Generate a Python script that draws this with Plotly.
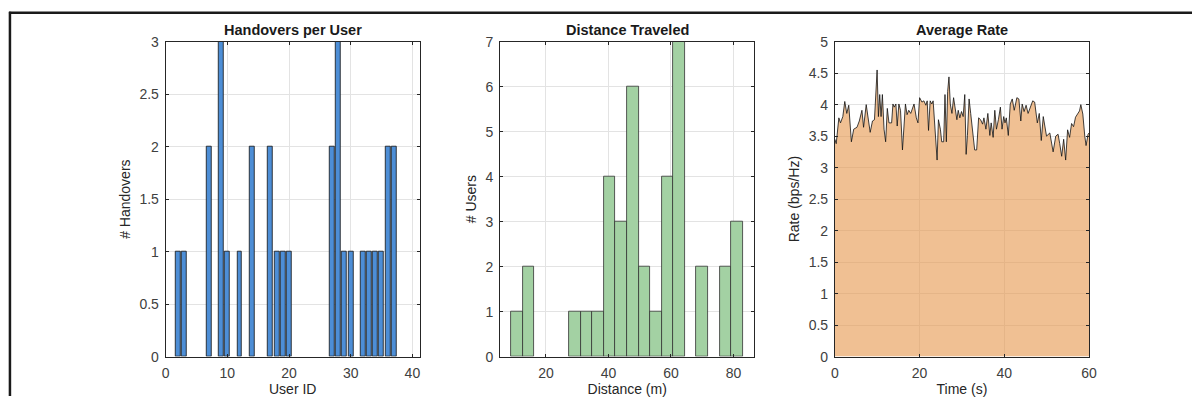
import plotly.graph_objects as go

# Handovers per user (users 1..40)
user_ids = list(range(1, 41))
handovers = [0, 1, 1, 0, 0, 0, 2, 0, 3, 1,
             0, 1, 0, 2, 0, 0, 2, 1, 1, 1,
             0, 0, 0, 0, 0, 0, 2, 3, 1, 1,
             0, 1, 1, 1, 1, 2, 2, 0, 0, 0]

# Distance traveled histogram
dist_bin_start = 8.93
dist_bin_width = 3.70
dist_counts = [1, 2, 0, 0, 0, 1, 1, 1, 4, 3, 6, 2, 1, 4, 7, 0, 2, 0, 2, 3]

# Average rate over time
time_s = [0.00, 0.31, 0.93, 1.32, 1.87, 2.33, 2.80, 3.27, 3.89, 4.44,
          5.21, 5.76, 6.38, 6.77, 7.39, 7.94, 8.33, 8.87, 9.34, 9.96,
          10.27, 10.58, 10.90, 11.21, 11.60, 11.98, 12.37, 12.76, 13.39, 13.70,
          14.01, 14.40, 14.71, 15.10, 15.49, 15.95, 16.34, 16.65, 17.04, 17.43,
          17.90, 18.21, 18.68, 19.22, 19.61, 20.00, 20.55, 21.01, 21.48, 21.79,
          22.10, 22.49, 22.88, 23.19, 23.50, 23.97, 24.13, 24.44, 24.90, 25.22,
          25.68, 25.99, 26.31, 26.62, 26.93, 27.24, 27.63, 28.02, 28.41, 28.80,
          29.11, 29.50, 29.89, 30.28, 30.66, 30.98, 31.29, 31.68, 32.06, 32.53,
          33.00, 33.47, 33.93, 34.40, 34.87, 35.18, 35.65, 36.11, 36.58, 36.89,
          37.36, 37.75, 38.14, 38.60, 39.07, 39.46, 39.85, 40.16, 40.47, 40.94,
          41.40, 41.87, 42.34, 42.96, 43.43, 43.89, 44.21, 44.67, 45.14, 45.61,
          46.07, 46.70, 47.16, 47.79, 48.25, 48.72, 49.19, 49.96, 50.74, 51.52,
          52.14, 52.69, 53.08, 53.54, 54.01, 54.48, 54.94, 55.41, 55.88, 56.35,
          56.81, 57.28, 57.75, 58.06, 58.53, 58.99, 59.30, 59.77, 60.00]
rate = [3.45, 3.38, 3.79, 3.71, 3.81, 4.05, 3.86, 3.99, 3.41, 3.61,
        3.64, 3.74, 3.91, 3.64, 4.00, 3.71, 3.56, 3.74, 3.76, 4.55,
        3.81, 4.16, 3.81, 4.16, 3.61, 3.41, 3.94, 3.71, 3.71, 4.01,
        3.96, 4.01, 3.66, 4.01, 3.91, 3.28, 3.81, 4.01, 3.84, 3.91,
        3.86, 3.93, 4.01, 3.79, 3.71, 4.11, 4.04, 4.06, 3.99, 4.06,
        3.59, 4.06, 4.01, 4.06, 3.76, 3.26, 3.12, 3.76, 3.61, 3.41,
        3.41, 4.16, 3.41, 4.21, 4.44, 4.01, 3.86, 4.11, 3.96, 3.76,
        3.91, 3.79, 3.89, 3.81, 4.16, 3.21, 3.51, 4.09, 3.86, 3.51,
        3.28, 3.28, 3.79, 3.76, 3.69, 3.79, 3.61, 3.86, 3.51, 3.71,
        3.48, 3.91, 3.61, 3.76, 3.96, 3.61, 3.81, 3.71, 3.79, 3.51,
        4.01, 4.09, 3.91, 4.11, 4.09, 3.74, 4.01, 3.89, 3.99, 3.86,
        3.96, 4.06, 4.04, 3.71, 3.86, 3.43, 3.81, 3.50, 3.55, 3.25,
        3.50, 3.53, 3.38, 3.18, 3.45, 3.12, 3.60, 3.48, 3.70, 3.65,
        3.80, 3.85, 3.90, 4.00, 3.85, 3.50, 3.35, 3.53, 3.55]

W, H = 1200, 404
FONT = "Liberation Sans, Arial, sans-serif"
TICK_COLOR = "#404040"
LABEL_COLOR = "#262626"
GRID = "#e3e3e3"


def px_x(p):
    return p / W


def px_y(p):
    return 1 - p / H


# empty bins / users carry no bar (and no outline)
hv_x = [u for u, h in zip(user_ids, handovers) if h > 0]
hv_y = [h for h in handovers if h > 0]
dist_centers = [dist_bin_start + (i + 0.5) * dist_bin_width for i in range(len(dist_counts))]
ds_x = [c for c, n in zip(dist_centers, dist_counts) if n > 0]
ds_y = [n for n in dist_counts if n > 0]

fig = go.Figure()

fig.add_trace(go.Bar(
    x=hv_x, y=hv_y, width=0.8,
    marker=dict(color="#4d8ed6", line=dict(color="#111111", width=0.8)),
    xaxis="x", yaxis="y", showlegend=False,
))

fig.add_trace(go.Bar(
    x=ds_x, y=ds_y, width=dist_bin_width,
    marker=dict(color="#a3d1a3", line=dict(color="#333333", width=0.8)),
    xaxis="x2", yaxis="y2", showlegend=False,
))

fig.add_trace(go.Scatter(
    x=time_s, y=rate, mode="lines", fill="tozeroy",
    fillcolor="rgba(230,150,75,0.6)",
    line=dict(color="#111111", width=0.8),
    xaxis="x3", yaxis="y3", showlegend=False,
))

y_dom = [px_y(363), px_y(35)]
axis_common = dict(
    showline=True, linecolor="#262626", linewidth=1, mirror="allticks",
    ticks="inside", ticklen=3, tickcolor="#262626",
    showgrid=True, gridcolor=GRID, gridwidth=1, zeroline=False,
    tickfont=dict(family=FONT, size=14, color=TICK_COLOR),
    title_font=dict(family=FONT, size=14, color=LABEL_COLOR),
)
x_common = dict(ticklabelstandoff=4, **axis_common)
y_common = dict(ticklabelstandoff=3, **axis_common)

fig.update_layout(
    width=W, height=H,
    margin=dict(l=0, r=0, t=0, b=0),
    paper_bgcolor="white", plot_bgcolor="white",
    bargap=0,
    xaxis=dict(domain=[px_x(163.3), px_x(420)], range=[0, 41.2],
               tickvals=[0, 10, 20, 30, 40], anchor="y",
               title=dict(text="User ID", standoff=3), **x_common),
    yaxis=dict(domain=y_dom, range=[0, 3], dtick=0.5, anchor="x",
               title=dict(text="# Handovers", standoff=5), **y_common),
    xaxis2=dict(domain=[px_x(501), px_x(758)], range=[5.3, 86.7],
                tickvals=[20, 40, 60, 80], anchor="y2",
                title=dict(text="Distance (m)", standoff=3), **x_common),
    yaxis2=dict(domain=y_dom, range=[0, 7], dtick=1, anchor="x2",
                title=dict(text="# Users", standoff=5), **y_common),
    xaxis3=dict(domain=[px_x(839.3), px_x(1096)], range=[0, 60],
                tickvals=[0, 20, 40, 60], anchor="y3",
                title=dict(text="Time (s)", standoff=3), **x_common),
    yaxis3=dict(domain=y_dom, range=[0, 5], dtick=0.5, anchor="x3",
                title=dict(text="Rate (bps/Hz)", standoff=5), **y_common),
)

titles = [("Handovers per User", (163.3 + 420) / 2),
          ("Distance Traveled", (501 + 758) / 2),
          ("Average Rate", (839.3 + 1096) / 2)]
for text, cx in titles:
    fig.add_annotation(
        text=f"<b>{text}</b>", x=px_x(cx), y=px_y(23),
        xref="paper", yref="paper", showarrow=False,
        xanchor="center", yanchor="middle",
        font=dict(family=FONT, size=14.5, color="#1a1a1a"),
    )

# outer frame lines
fig.add_shape(type="line", xref="paper", yref="paper",
              x0=px_x(5), x1=1, y0=px_y(5), y1=px_y(5),
              line=dict(color="#1a1a1a", width=2.5))
fig.add_shape(type="line", xref="paper", yref="paper",
              x0=px_x(6), x1=px_x(6), y0=px_y(4), y1=0,
              line=dict(color="#1a1a1a", width=2.5))

fig.write_html("out.html")
